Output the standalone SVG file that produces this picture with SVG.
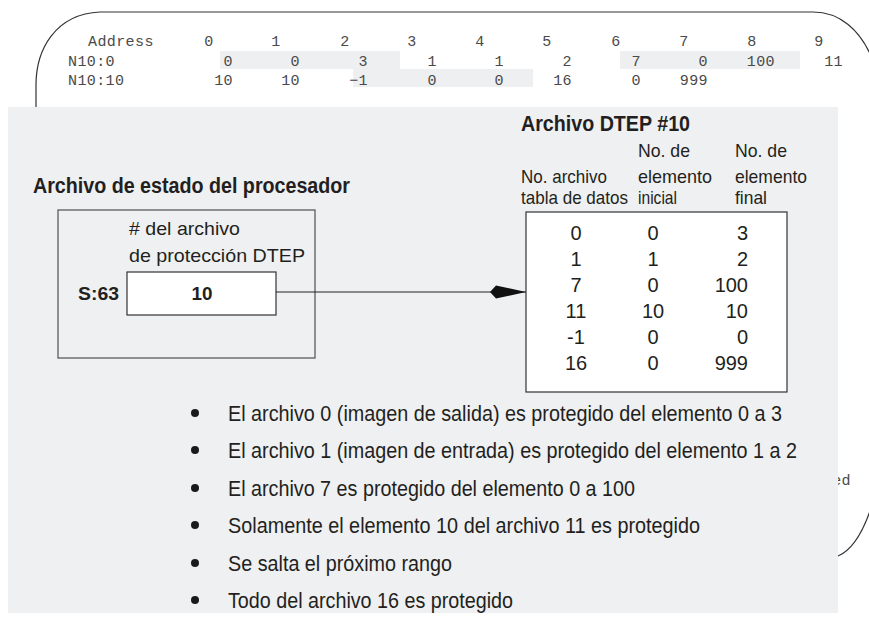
<svg xmlns="http://www.w3.org/2000/svg" width="869" height="619" viewBox="0 0 869 619">
<defs>
<style>
.mono{font-family:"Liberation Mono","Courier New",monospace;font-size:15px;fill:#4a4a4a;letter-spacing:0.4px}
.num{text-anchor:end}
.hl{fill:#eeeff1}
.frame{fill:none;stroke:#333;stroke-width:1.2}
.panel{fill:#eff0f2}
.sans{font-family:"Liberation Sans",Arial,sans-serif;fill:#231f20}
.b{font-weight:bold}
.h{font-size:22px}
.t{font-size:19px}
.d{font-size:20px}
.bl{font-size:22px}
.box{fill:none;stroke:#666;stroke-width:1.4}
.wbox{fill:#fff;stroke:#333;stroke-width:1.2}
.conn{stroke:#222;stroke-width:1.2;fill:none}
.dot{fill:#1a1a1a}
</style>
<marker id="arr" viewBox="0 0 36 14" refX="36" refY="7" markerWidth="36" markerHeight="14" markerUnits="userSpaceOnUse" orient="auto">
<path d="M0,7 L6,0.5 L36,7 L6,13.5 Z" fill="#111"/>
</marker>
</defs>

<g id="background-table">
<path class="frame" d="M36,107 L36,85 C36,50 55,14 100,12 L813,12 C840,12 860,30 872,58"/>
<path class="frame" d="M838,556 C852,550 862,535 871,508"/>
<rect class="hl" x="220" y="51" width="180" height="18"/>
<rect class="hl" x="620" y="51" width="180" height="18"/>
<rect class="hl" x="353" y="69" width="180" height="18"/>
<g class="mono">
<text x="88" y="46">Address</text>
<text x="68" y="66">N10:0</text>
<text x="68" y="85">N10:10</text>
</g>
<g class="mono" text-anchor="middle">
<text x="209" y="46">0</text><text x="276" y="46">1</text><text x="345" y="46">2</text><text x="412" y="46">3</text><text x="480" y="46">4</text><text x="547" y="46">5</text><text x="616" y="46">6</text><text x="684" y="46">7</text><text x="752" y="46">8</text><text x="819" y="46">9</text>
</g>
<g class="mono num">
<text x="233" y="66">0</text><text x="300" y="66">0</text><text x="368" y="66">3</text><text x="437" y="66">1</text><text x="504" y="66">1</text><text x="572" y="66">2</text><text x="641" y="66">7</text><text x="708" y="66">0</text><text x="775" y="66">100</text><text x="843" y="66">11</text>
<text x="233" y="85">10</text><text x="300" y="85">10</text><text x="368" y="85">−1</text><text x="437" y="85">0</text><text x="504" y="85">0</text><text x="572" y="85">16</text><text x="641" y="85">0</text><text x="708" y="85">999</text>
<text x="851" y="485">ed</text>
</g>
</g>

<rect class="panel" x="8" y="107" width="830" height="506"/>

<g id="status-file">
<text class="sans b h" x="33" y="193" textLength="317" lengthAdjust="spacingAndGlyphs">Archivo de estado del procesador</text>
<rect class="box" x="58" y="210" width="257" height="148"/>
<text class="sans t" x="129" y="235" textLength="111" lengthAdjust="spacingAndGlyphs"># del archivo</text>
<text class="sans t" x="129" y="262" textLength="176" lengthAdjust="spacingAndGlyphs">de protección DTEP</text>
<text class="sans b t" x="78" y="300" textLength="41" lengthAdjust="spacingAndGlyphs">S:63</text>
</g>

<g id="s63-value">
<rect class="wbox" x="127" y="272" width="149" height="43"/>
<text class="sans b t" x="202" y="300" text-anchor="middle" textLength="21" lengthAdjust="spacingAndGlyphs">10</text>
</g>

<g id="dtep-file">
<text class="sans b h" x="521" y="131" textLength="169" lengthAdjust="spacingAndGlyphs">Archivo DTEP #10</text>
<text class="sans t" x="521" y="183" textLength="86" lengthAdjust="spacingAndGlyphs">No. archivo</text>
<text class="sans t" x="521" y="204" textLength="107" lengthAdjust="spacingAndGlyphs">tabla de datos</text>
<text class="sans t" x="638" y="157" textLength="52" lengthAdjust="spacingAndGlyphs">No. de</text>
<text class="sans t" x="638" y="183" textLength="74" lengthAdjust="spacingAndGlyphs">elemento</text>
<text class="sans t" x="638" y="204" textLength="39" lengthAdjust="spacingAndGlyphs">inicial</text>
<text class="sans t" x="735" y="157" textLength="52" lengthAdjust="spacingAndGlyphs">No. de</text>
<text class="sans t" x="735" y="183" textLength="72" lengthAdjust="spacingAndGlyphs">elemento</text>
<text class="sans t" x="735" y="204" textLength="32" lengthAdjust="spacingAndGlyphs">final</text>
<rect class="wbox" x="526" y="212" width="261" height="180"/>
<g class="sans d" text-anchor="middle">
<text x="576" y="240">0</text><text x="576" y="266">1</text><text x="576" y="292">7</text><text x="576" y="318">11</text><text x="576" y="344">-1</text><text x="576" y="370">16</text>
<text x="653" y="240">0</text><text x="653" y="266">1</text><text x="653" y="292">0</text><text x="653" y="318">10</text><text x="653" y="344">0</text><text x="653" y="370">0</text>
</g>
<g class="sans d" text-anchor="end">
<text x="748" y="240">3</text><text x="748" y="266">2</text><text x="748" y="292">100</text><text x="748" y="318">10</text><text x="748" y="344">0</text><text x="748" y="370">999</text>
</g>
</g>

<g id="connectors">
<path class="conn" d="M276,292 L526,292" marker-end="url(#arr)"/>
</g>

<g id="notes">
<circle class="dot" cx="195" cy="413" r="4"/>
<circle class="dot" cx="195" cy="450" r="4"/>
<circle class="dot" cx="195" cy="488" r="4"/>
<circle class="dot" cx="195" cy="525" r="4"/>
<circle class="dot" cx="195" cy="563" r="4"/>
<circle class="dot" cx="195" cy="600" r="4"/>
<text class="sans bl" x="228" y="421" textLength="554" lengthAdjust="spacingAndGlyphs">El archivo 0 (imagen de salida) es protegido del elemento 0 a 3</text>
<text class="sans bl" x="228" y="458" textLength="569" lengthAdjust="spacingAndGlyphs">El archivo 1 (imagen de entrada) es protegido del elemento 1 a 2</text>
<text class="sans bl" x="228" y="496" textLength="407" lengthAdjust="spacingAndGlyphs">El archivo 7 es protegido del elemento 0 a 100</text>
<text class="sans bl" x="228" y="533" textLength="472" lengthAdjust="spacingAndGlyphs">Solamente el elemento 10 del archivo 11 es protegido</text>
<text class="sans bl" x="228" y="571" textLength="224" lengthAdjust="spacingAndGlyphs">Se salta el próximo rango</text>
<text class="sans bl" x="228" y="608" textLength="285" lengthAdjust="spacingAndGlyphs">Todo del archivo 16 es protegido</text>
</g>
</svg>
